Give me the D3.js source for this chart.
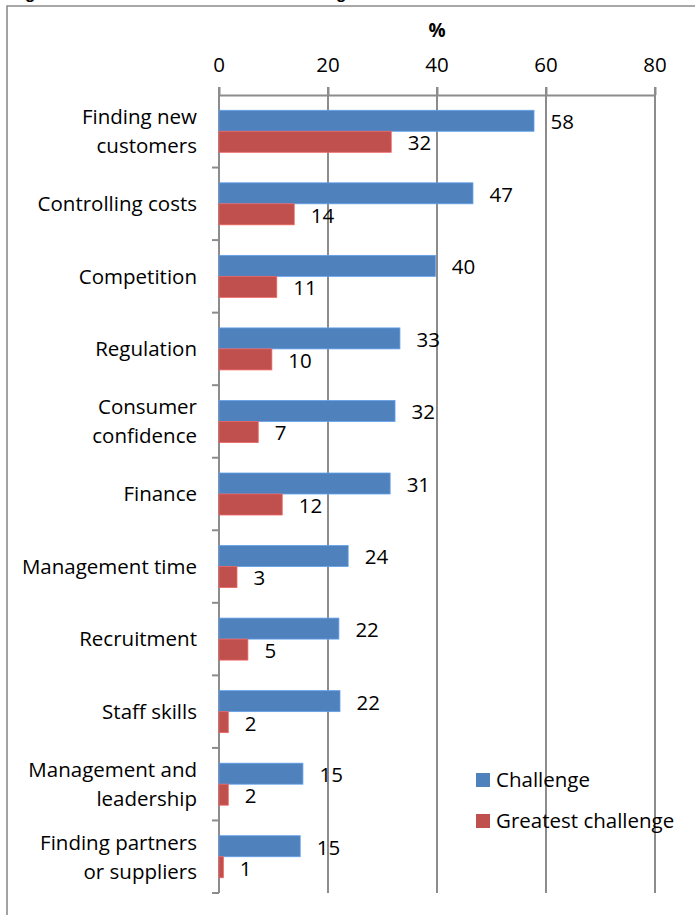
<!DOCTYPE html>
<html><head><meta charset="utf-8">
<script src="https://cdn.jsdelivr.net/npm/d3@7"></script>
<style>body{margin:0;background:#fff}svg{display:block}text{font-family:"Open Sans",sans-serif;fill:#000}</style>
</head><body>
<script>
const categories = ["Finding new\ncustomers","Controlling costs","Competition","Regulation","Consumer\nconfidence","Finance","Management time","Recruitment","Staff skills","Management and\nleadership","Finding partners\nor suppliers"];
const challenge = [57.8,46.6,39.7,33.2,32.3,31.4,23.7,22.0,22.2,15.4,14.9];
const greatest = [31.6,13.8,10.6,9.7,7.2,11.6,3.3,5.3,1.7,1.7,0.8];
const seriesNames = ["Challenge","Greatest challenge"];
const colors = ["#4F81BD","#C0504D"];
const xTicks = [0,20,40,60,80];
const axisTitle = "%";
const chartTitle = "Figure 1: The main business challenges";

const W=695,H=915;
const svg=d3.select("body").append("svg").attr("width",W).attr("height",H);
const grey="#8c8c8c";
const fs=20.5;

// title (cut off at top of the picture)
const tt=svg.append("text").attr("x",8).attr("y",-1).attr("font-weight","bold").attr("font-size",17)
  .style("font-family","'Liberation Sans',Arial,sans-serif").text(chartTitle);
// align second "g" with reference
const idx=chartTitle.lastIndexOf("g");
const pos=tt.node().getStartPositionOfChar(idx).x;
const extra=(336-pos)/idx;
tt.attr("letter-spacing",extra);

// outer border
svg.append("path").attr("d",`M7,${H+2}V6H${W+2}`).attr("fill","none").attr("stroke",grey).attr("stroke-width",1.6);

const x=d3.scaleLinear().domain([0,80]).range([219,655]);
const y=d3.scaleBand().domain(categories).range([95,893]).padding(0);
const barH=21;

// gridlines
svg.append("g").selectAll("line").data(xTicks.slice(1)).join("line")
  .attr("x1",d=>x(d)).attr("x2",d=>x(d)).attr("y1",87).attr("y2",893)
  .attr("stroke",grey).attr("stroke-width",2);

// x axis (top)
const xa=svg.append("g").attr("transform","translate(0,95)")
  .call(d3.axisTop(x).tickValues(xTicks).tickSize(8).tickSizeOuter(0).tickFormat(""));
xa.selectAll("path,line").attr("stroke",grey).attr("stroke-width",2);
svg.append("g").selectAll("text").data(xTicks).join("text")
  .attr("x",d=>x(d)).attr("y",72).attr("text-anchor","middle").attr("font-size",fs).text(d=>d);
svg.append("text").attr("x",x(40)).attr("y",37).attr("text-anchor","middle").attr("font-size",19)
  .attr("font-weight","bold").text(axisTitle);

// category axis
svg.append("line").attr("x1",219).attr("x2",219).attr("y1",87).attr("y2",893).attr("stroke",grey).attr("stroke-width",2);
const bounds=categories.map(c=>y(c)+y.step());
svg.append("g").selectAll("line").data(bounds).join("line")
  .attr("x1",212).attr("x2",219).attr("y1",d=>d).attr("y2",d=>d).attr("stroke",grey).attr("stroke-width",2);

// category labels
const lg=svg.append("g");
categories.forEach(c=>{
  const lines=c.split("\n");
  const cy=y(c)+y.step()/2;
  const t=lg.append("text").attr("text-anchor","end").attr("font-size",fs);
  lines.forEach((l,i)=>{
    t.append("tspan").attr("x",197).attr("y",cy+(i-(lines.length-1)/2)*29).attr("dy","0.36em").text(l);
  });
});

// bars
const data=[challenge,greatest];
data.forEach((vals,si)=>{
  const g=svg.append("g");
  g.selectAll("rect").data(vals).join("rect")
    .attr("x",x(0)).attr("width",d=>x(d)-x(0))
    .attr("y",(d,i)=>y(categories[i])+y.step()/2-barH+si*barH).attr("height",barH)
    .attr("fill",colors[si]).attr("stroke",d3.color(colors[si]).brighter(0.6)).attr("stroke-width",0.8);
  g.selectAll("text").data(vals).join("text")
    .attr("x",d=>x(d)+16.5).attr("y",(d,i)=>y(categories[i])+y.step()/2-barH/2+si*barH+1)
    .attr("dy","0.36em").attr("font-size",fs).text(d=>Math.round(d));
});

// legend
const leg=svg.append("g");
seriesNames.forEach((n,i)=>{
  leg.append("rect").attr("x",476).attr("y",773+i*41).attr("width",14).attr("height",14).attr("fill",colors[i]);
  leg.append("text").attr("x",496).attr("y",780+i*41).attr("dy","0.36em").attr("font-size",fs).text(n);
});
</script>
</body></html>
